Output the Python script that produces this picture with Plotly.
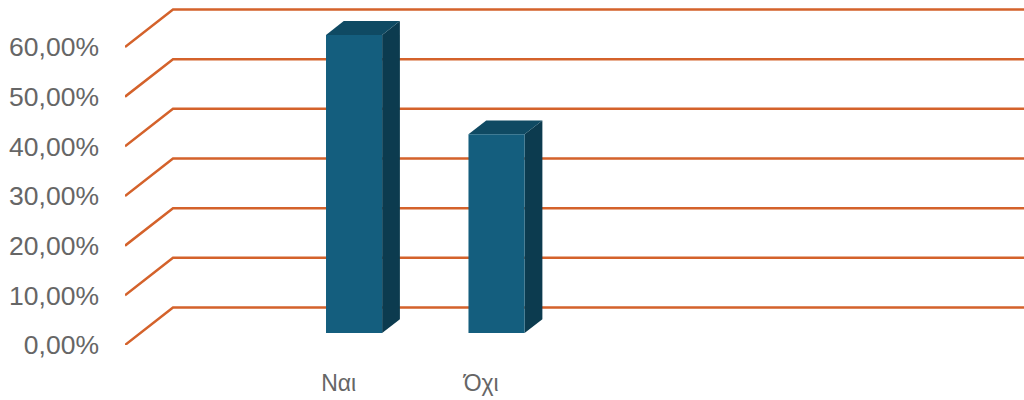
import plotly.graph_objects as go

# Survey answers and their shares (percent)
categories = ["Ναι", "Όχι"]
values = [60, 40]

# Value axis ticks
tick_values = [0, 10, 20, 30, 40, 50, 60]
tick_labels = ["0,00%", "10,00%", "20,00%", "30,00%", "40,00%", "50,00%", "60,00%"]

# Pseudo-3D geometry in axis units
X_MIN, X_MAX = -1.5, 4.81          # category axis range
Y_MIN, Y_MAX = 0, 69.46            # value axis range (percent)
WALL_DX, WALL_DY = 0.337, 7.55     # depth offset from floor edge to back wall
BAR_HALF = 0.197                   # half width of a bar's front face
BAR_FRONT = 0.32                   # depth fraction of the bar's front face
BAR_BACK = 0.69                    # depth fraction of the bar's back face

GRID_COLOR = "#D4622B"
FRONT_COLOR = "#145E7E"
TOP_COLOR = "#0F4A63"
SIDE_COLOR = "#0C3B4F"
TEXT_COLOR = "#666666"

fig = go.Figure()

# Gridlines: a slanted segment on the side wall, then the back-wall line
for v in tick_values:
    fig.add_trace(go.Scatter(
        x=[X_MIN, X_MIN + WALL_DX, X_MAX],
        y=[v, v + WALL_DY, v + WALL_DY],
        mode="lines",
        line=dict(color=GRID_COLOR, width=2.5),
        hoverinfo="skip",
        showlegend=False,
    ))


def poly(xs, ys, color):
    fig.add_trace(go.Scatter(
        x=xs + [xs[0]], y=ys + [ys[0]],
        mode="lines", fill="toself", fillcolor=color,
        line=dict(width=0, color=color),
        hoverinfo="skip", showlegend=False,
    ))


# 3D bars built from front, top and side faces
for i, (cat, val) in enumerate(zip(categories, values)):
    fx = i + BAR_FRONT * WALL_DX
    fy = BAR_FRONT * WALL_DY
    bx = i + BAR_BACK * WALL_DX
    by = BAR_BACK * WALL_DY
    left, right = fx - BAR_HALF, fx + BAR_HALF
    bleft, bright = bx - BAR_HALF, bx + BAR_HALF
    # side face
    poly([right, bright, bright, right],
         [fy, by, by + val, fy + val], SIDE_COLOR)
    # top face
    poly([left, right, bright, bleft],
         [fy + val, fy + val, by + val, by + val], TOP_COLOR)
    # front face
    poly([left, right, right, left],
         [fy, fy, fy + val, fy + val], FRONT_COLOR)

fig.update_layout(
    width=1024, height=400,
    margin=dict(l=125, r=0, t=0, b=55),
    paper_bgcolor="white", plot_bgcolor="white",
    font=dict(family="Liberation Sans, Arial, sans-serif", color=TEXT_COLOR),
    xaxis=dict(
        range=[X_MIN, X_MAX],
        tickvals=list(range(len(categories))),
        ticktext=categories,
        tickfont=dict(size=23, color=TEXT_COLOR),
        showgrid=False, zeroline=False, showline=False,
        ticks="", ticklabelstandoff=22,
        fixedrange=True,
    ),
    yaxis=dict(
        range=[Y_MIN, Y_MAX],
        tickvals=tick_values,
        ticktext=tick_labels,
        tickfont=dict(size=26.5, color=TEXT_COLOR),
        showgrid=False, zeroline=False, showline=False,
        ticks="", ticklabelstandoff=25,
        fixedrange=True,
    ),
)

fig.write_html("out.html")
